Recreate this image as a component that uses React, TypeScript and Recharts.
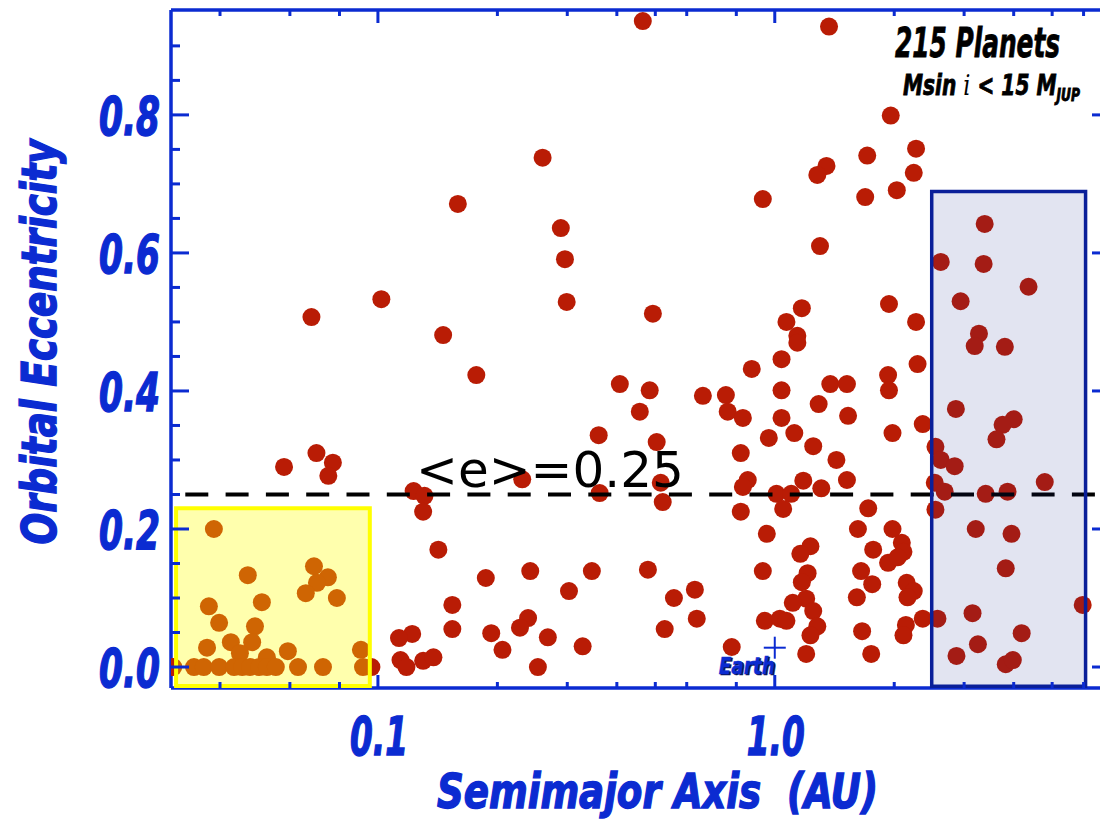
import React from 'react';
import { ScatterChart, Scatter, XAxis, YAxis, ReferenceArea, ReferenceLine, ReferenceDot } from 'recharts';

const BLUE = '#0b2bd1';
const RED = '#b91c05';
const FONT = "'Liberation Sans Narrow', 'DejaVu Sans Condensed', 'Liberation Sans', Arial, sans-serif";

const xDomain = [0.0301, 6.6];
const yDomain = [-0.0304, 0.952];
const xMajor = [0.1, 1];
const xTicks = [0.04, 0.05, 0.06, 0.07, 0.08, 0.09, 0.1, 0.2, 0.3, 0.4, 0.5, 0.6, 0.7, 0.8, 0.9, 1, 2, 3, 4, 5, 6];
const yMajor = [0, 0.2, 0.4, 0.6, 0.8];
const yTicks = [0, 0.05, 0.1, 0.15, 0.2, 0.25, 0.3, 0.35, 0.4, 0.45, 0.5, 0.55, 0.6, 0.65, 0.7, 0.75, 0.8, 0.85, 0.9];

// hot planets, a < 0.1 AU
const innerAU = [0.068, 0.0963, 0.058, 0.070, 0.077, 0.075, 0.0386, 0.047, 0.069, 0.0748, 0.0702, 0.0658, 0.0788, 0.051, 0.0375, 0.0398, 0.049, 0.0371, 0.0426, 0.0482, 0.0449, 0.0593, 0.0525, 0.0906,
  0.0305, 0.0344, 0.0364, 0.0398, 0.0434, 0.0455, 0.0476, 0.0502, 0.0525, 0.0553, 0.0629, 0.0727, 0.0917];
const innerEcc = [0.507, 0.0, 0.290, 0.310, 0.296, 0.277, 0.200, 0.133, 0.146, 0.130, 0.122, 0.107, 0.100, 0.094, 0.088, 0.064, 0.059, 0.028, 0.036, 0.036, 0.020, 0.023, 0.014, 0.025,
  0, 0, 0, 0, 0, 0, 0, 0, 0, 0, 0, 0, 0];

// 0.1 - 2.5 AU
const midAU = [0.465, 1.37, 1.96, 2.27, 1.71, 1.35, 1.28, 2.24, 2.03, 1.69, 0.933, 0.260, 0.159, 0.289, 0.296, 0.299, 1.30, 0.102, 0.146, 0.493,
  0.177, 1.94, 1.17, 1.07, 2.27, 1.14, 1.14, 1.04, 0.875, 2.29, 1.93, 1.94, 1.04, 1.38, 1.52, 0.753, 0.659, 1.29, 0.407, 0.484,
  0.457, 0.761, 0.831, 1.04, 1.53, 1.98, 2.36, 1.12, 0.966, 0.821, 1.25, 1.43, 1.52, 1.18, 1.31, 0.855, 0.831, 1.01, 1.10, 1.05,
  0.821, 1.72, 0.955, 1.62, 1.98, 1.23, 1.16, 1.77, 2.09, 2.11, 1.93, 2.04, 0.933, 1.21, 1.17, 1.65, 1.76, 2.15, 2.24, 2.16,
  1.61, 1.20, 1.11, 1.25, 1.28, 1.23, 0.944, 1.03, 1.07, 2.36, 2.14, 2.11, 1.66, 1.20, 1.75, 0.779, 0.629, 0.636, 0.360, 0.504,
  0.231, 0.516, 0.522, 0.362, 0.123, 0.131, 0.130, 0.142, 0.242, 0.346, 0.479, 0.187, 0.303, 0.557, 0.528, 0.154, 0.154, 0.193, 0.239, 0.228,
  0.268, 0.122, 0.113, 0.206, 0.328, 0.114, 0.118, 0.130, 0.138, 0.253];
const midEcc = [0.936, 0.928, 0.799, 0.751, 0.741, 0.726, 0.713, 0.716, 0.691, 0.681, 0.678, 0.738, 0.671, 0.636, 0.591, 0.529, 0.610, 0.533, 0.481, 0.512,
  0.423, 0.526, 0.520, 0.500, 0.500, 0.480, 0.470, 0.446, 0.432, 0.439, 0.423, 0.401, 0.401, 0.410, 0.410, 0.394, 0.393, 0.381, 0.410, 0.401,
  0.370, 0.370, 0.361, 0.361, 0.364, 0.339, 0.352, 0.339, 0.332, 0.310, 0.320, 0.300, 0.271, 0.270, 0.259, 0.271, 0.261, 0.251, 0.251, 0.229,
  0.225, 0.230, 0.193, 0.200, 0.200, 0.175, 0.164, 0.170, 0.180, 0.167, 0.151, 0.159, 0.139, 0.136, 0.123, 0.139, 0.120, 0.122, 0.110, 0.101,
  0.101, 0.099, 0.093, 0.081, 0.059, 0.046, 0.067, 0.070, 0.067, 0.070, 0.061, 0.046, 0.052, 0.019, 0.019, 0.029, 0.112, 0.070, 0.336, 0.326,
  0.272, 0.267, 0.239, 0.252, 0.255, 0.248, 0.225, 0.170, 0.139, 0.139, 0.141, 0.129, 0.110, 0.100, 0.055, 0.090, 0.055, 0.049, 0.071, 0.057,
  0.043, 0.048, 0.042, 0.025, 0.030, 0.010, 0.0, 0.009, 0.014, 0.0];

// beyond 2.5 AU
const outerAU = [3.38, 2.62, 3.36, 4.36, 2.94, 3.27, 3.19, 3.80, 2.86, 4.00, 3.75, 3.62, 2.54, 2.62, 2.84, 2.53, 2.68, 3.40, 3.86, 4.79,
  2.54, 3.21, 3.95, 3.82, 5.97, 3.15, 2.57, 4.19, 3.25, 2.87, 3.82, 3.98];
const outerEcc = [0.642, 0.587, 0.584, 0.551, 0.530, 0.483, 0.465, 0.464, 0.374, 0.359, 0.351, 0.330, 0.319, 0.300, 0.291, 0.267, 0.254, 0.251, 0.254, 0.268,
  0.228, 0.200, 0.193, 0.143, 0.090, 0.078, 0.070, 0.049, 0.033, 0.016, 0.004, 0.010];

const meanEcc = 0.25;
const earth = { a: 1.0, e: 0.028 };
const hotBox = { x1: 0.031, x2: 0.0954, y1: -0.0275, y2: 0.23 };
const coldBox = { x1: 2.486, x2: 6.07, y1: -0.028, y2: 0.689 };

const toPoints = (a: number[], e: number[]) => a.map((v, i) => ({ a: v, e: e[i] }));
const planets = [...toPoints(innerAU, innerEcc), ...toPoints(midAU, midEcc), ...toPoints(outerAU, outerEcc)];

const labelStyle = { fontFamily: FONT, fontWeight: 700, fontStyle: 'italic' as const, fill: BLUE, stroke: BLUE, strokeWidth: 1.4 };
const blackStyle = { fontFamily: FONT, fontWeight: 700, fontStyle: 'italic' as const, fill: '#000', stroke: '#000', strokeWidth: 0.8 };

const BottomTick = ({ x, y, payload }: any) => {
  const major = xMajor.includes(payload.value);
  return (
    <g>
      <line x1={x} x2={x} y1={y} y2={y - (major ? 13 : 6)} stroke={BLUE} strokeWidth={3} />
      {major && (
        <text x={x + 1} y={y + 67} textAnchor="middle" fontSize={54} textLength={58} lengthAdjust="spacingAndGlyphs" style={labelStyle}>
          {payload.value.toFixed(1)}
        </text>
      )}
    </g>
  );
};

const TopTick = ({ x, y, payload }: any) => {
  const major = xMajor.includes(payload.value);
  return <line x1={x} x2={x} y1={y} y2={y + (major ? 13 : 6)} stroke={BLUE} strokeWidth={3} />;
};

const LeftTick = ({ x, y, payload }: any) => {
  const major = yMajor.includes(payload.value);
  return (
    <g>
      <line x1={x} x2={x + (major ? 18 : 9)} y1={y} y2={y} stroke={BLUE} strokeWidth={3} />
      {major && (
        <text x={x - 11} y={y + 20} textAnchor="end" fontSize={54} textLength={61} lengthAdjust="spacingAndGlyphs" style={labelStyle}>
          {payload.value.toFixed(1)}
        </text>
      )}
    </g>
  );
};

const RightTick = ({ x, y }: any) => <line x1={x} x2={x - 8} y1={y} y2={y} stroke={BLUE} strokeWidth={3} />;

const Dot = (props: any) => <circle cx={props.cx} cy={props.cy} r={9} fill={RED} />;

const EarthMark = (props: any) => {
  const { cx, cy } = props;
  const st = { ...labelStyle, strokeWidth: 0.5 };
  return (
    <g>
      <line x1={cx - 11} x2={cx + 11} y1={cy} y2={cy} stroke={BLUE} strokeWidth={2} />
      <line x1={cx} x2={cx} y1={cy - 11} y2={cy + 11} stroke={BLUE} strokeWidth={2} />
      <text x={cx + 1.5} y={cy + 27.5} textAnchor="end" fontSize={23} textLength={56} lengthAdjust="spacingAndGlyphs"
        style={{ ...st, fill: '#0a1450', stroke: '#0a1450' }}>Earth</text>
      <text x={cx} y={cy + 26} textAnchor="end" fontSize={23} textLength={56} lengthAdjust="spacingAndGlyphs" style={st}>Earth</text>
    </g>
  );
};

const MeanLabel = (props: any) => {
  const { x, y } = props.viewBox;
  return (
    <text x={x + 245} y={y - 7} fontSize={50} fill="#000" style={{ fontFamily: "'DejaVu Sans', sans-serif" }}>
      {'<e>=' + meanEcc.toFixed(2)}
    </text>
  );
};

const XTitle = (props: any) => {
  const { x, y, width } = props.viewBox;
  return (
    <text x={x + width / 2 + 22} y={y + 120} textAnchor="middle" fontSize={48} textLength={441} lengthAdjust="spacingAndGlyphs" style={labelStyle}>
      {'Semimajor Axis\u00a0 (AU)'}
    </text>
  );
};

const YTitle = (props: any) => {
  const { y, height } = props.viewBox;
  const cy = y + height / 2 - 7;
  return (
    <text transform={`translate(56, ${cy}) rotate(-90)`} textAnchor="middle" fontSize={48} textLength={405} lengthAdjust="spacingAndGlyphs" style={labelStyle}>
      Orbital Eccentricity
    </text>
  );
};

export default function App() {
  return (
    <div style={{ position: 'absolute', left: 0, top: 0, width: 1101, height: 820 }}>
      <ScatterChart width={1101} height={820} margin={{ top: 0, right: 0, bottom: 0, left: 0 }}>
        <XAxis xAxisId={0} dataKey="a" type="number" scale="log" domain={xDomain} allowDataOverflow ticks={xTicks}
          height={132} tickSize={0} tickMargin={0} tick={<BottomTick />} axisLine={{ stroke: BLUE, strokeWidth: 3.5 }}
          label={<XTitle />} />
        <XAxis xAxisId="top" orientation="top" dataKey="a" type="number" scale="log" domain={xDomain} allowDataOverflow ticks={xTicks}
          height={10} tickSize={0} tickMargin={0} tick={<TopTick />} axisLine={{ stroke: BLUE, strokeWidth: 3.5 }} />
        <YAxis yAxisId={0} dataKey="e" type="number" domain={yDomain} allowDataOverflow ticks={yTicks}
          width={171} tickSize={0} tickMargin={0} tick={<LeftTick />} axisLine={{ stroke: BLUE, strokeWidth: 3.5 }}
          label={<YTitle />} />
        <YAxis yAxisId="right" orientation="right" dataKey="e" type="number" domain={yDomain} allowDataOverflow ticks={yMajor}
          width={1} tickSize={0} tickMargin={0} tick={<RightTick />} axisLine={false} />
        <Scatter data={planets} shape={Dot} isAnimationActive={false} />
        <Scatter data={planets} xAxisId="top" yAxisId="right" shape={() => null} isAnimationActive={false} />
        <ReferenceLine y={meanEcc} stroke="#000" strokeWidth={4} strokeDasharray="23 17.3" strokeDashoffset={26}
          label={<MeanLabel />} zIndex={700} />
        <ReferenceArea x1={hotBox.x1} x2={hotBox.x2} y1={hotBox.y1} y2={hotBox.y2} fill="#ffff00" fillOpacity={0.32}
          stroke="#ffff00" strokeWidth={4} zIndex={800} />
        <ReferenceArea x1={coldBox.x1} x2={coldBox.x2} y1={coldBox.y1} y2={coldBox.y2} fill="#14208c" fillOpacity={0.12}
          stroke="#0a1f99" strokeWidth={3.5} zIndex={800} />
        <ReferenceDot x={earth.a} y={earth.e} r={11} shape={EarthMark} zIndex={700} />
      </ScatterChart>
      <svg width={1101} height={820} style={{ position: 'absolute', left: 0, top: 0, pointerEvents: 'none' }}>
        <text transform="translate(895, 57) scale(0.69, 1)" fontSize={40} style={blackStyle}>215 Planets</text>
        <text transform="translate(903, 95) scale(0.8, 1)" fontSize={28} style={blackStyle}>
          Msin <tspan style={{ fontFamily: "'DejaVu Serif', serif", fontWeight: 400, strokeWidth: 0 }}>i</tspan> {'< 15 M'}
          <tspan fontSize={17} dy={6}>JUP</tspan>
        </text>
      </svg>
    </div>
  );
}
